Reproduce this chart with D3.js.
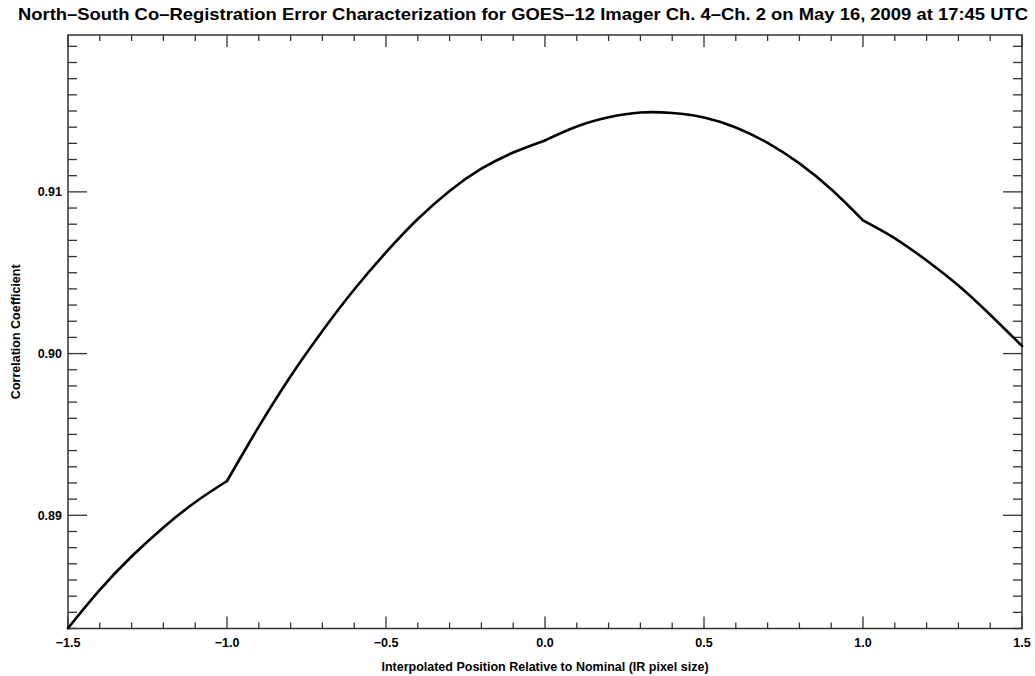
<!DOCTYPE html>
<html><head><meta charset="utf-8">
<script src="https://cdn.jsdelivr.net/npm/d3@7"></script>
<style>body{margin:0;background:#fff}svg{display:block}text{font-family:"Liberation Sans",Arial,sans-serif;font-weight:bold;fill:#000}</style>
</head><body>
<script>
const titleText = "North\u2013South Co\u2013Registration Error Characterization for GOES\u201312 Imager Ch. 4\u2013Ch. 2 on May 16, 2009 at 17:45 UTC";
const xLabel = "Interpolated Position Relative to Nominal (IR pixel size)";
const yLabel = "Correlation Coefficient";
const positions = [-1.5,-1.4,-1.3,-1.2,-1.1,-1.0,-0.9,-0.8,-0.7,-0.6,-0.5,-0.4,-0.3,-0.2,-0.1,0.0,0.1,0.2,0.3,0.4,0.5,0.6,0.7,0.8,0.9,1.0,1.1,1.2,1.3,1.4,1.5];
const correlation = [0.88302,0.88539,0.88745,0.88925,0.89081,0.89212,
  0.89548,0.89860,0.90140,0.90396,0.90626,0.90832,0.91006,0.91143,0.91243,0.91318,
  0.91404,0.91461,0.91491,0.91488,0.91460,0.91398,0.91303,0.91176,0.91016,0.90824,
  0.90713,0.90576,0.90421,0.90240,0.90047];
const kinks = [-1.0, 0.0, 1.0];
const xMajorTicks = [-1.5,-1.0,-0.5,0.0,0.5,1.0,1.5];
const xTickLabels = ["\u22121.5","\u22121.0","\u22120.5","0.0","0.5","1.0","1.5"];
const yMajorTicks = [0.89,0.90,0.91];
const yTickLabels = ["0.89","0.90","0.91"];

const W=1035,H=676;
const L=68,R=1022,T=35,B=628.5;
const svg=d3.select("body").append("svg").attr("width",W).attr("height",H);
const x=d3.scaleLinear().domain([-1.5,1.5]).range([L,R]);
const y=d3.scaleLinear().domain([0.8830,0.9197]).range([B,T]);
const axisColor="#333";

const xMinor=d3.range(-15,16).map(d=>d/10);
const yMinor=d3.range(883,920).map(d=>d/1000);
const g=svg.append("g").attr("stroke",axisColor).attr("stroke-width",1.3);
const isMajX=v=>xMajorTicks.some(m=>Math.abs(m-v)<1e-9);
const isMajY=v=>yMajorTicks.some(m=>Math.abs(m-v)<1e-9);
xMinor.forEach(v=>{
  const len=isMajX(v)?12:6;
  g.append("line").attr("x1",x(v)).attr("x2",x(v)).attr("y1",B).attr("y2",B-len);
  g.append("line").attr("x1",x(v)).attr("x2",x(v)).attr("y1",T).attr("y2",T+len);
});
yMinor.forEach(v=>{
  const len=isMajY(v)?19:9;
  g.append("line").attr("y1",y(v)).attr("y2",y(v)).attr("x1",L).attr("x2",L+len);
  g.append("line").attr("y1",y(v)).attr("y2",y(v)).attr("x1",R).attr("x2",R-len);
});
svg.append("rect").attr("x",L).attr("y",T).attr("width",R-L).attr("height",B-T)
  .attr("fill","none").attr("stroke",axisColor).attr("stroke-width",1.5);

const pts=positions.map((p,i)=>[p,correlation[i]]);
const bounds=[-1.5,...kinks,1.5];
const line=d3.line().x(d=>x(d[0])).y(d=>y(d[1])).curve(d3.curveNatural);
for(let i=0;i<bounds.length-1;i++){
  const seg=pts.filter(d=>d[0]>=bounds[i]-1e-9&&d[0]<=bounds[i+1]+1e-9);
  svg.append("path").datum(seg).attr("d",line).attr("fill","none")
    .attr("stroke","#000").attr("stroke-width",2.6).attr("stroke-linejoin","round").attr("stroke-linecap","round");
}

xMajorTicks.forEach((v,i)=>{
  svg.append("text").attr("x",x(v)).attr("y",647).attr("text-anchor","middle")
    .attr("font-size",12.5).text(xTickLabels[i]);
});
yMajorTicks.forEach((v,i)=>{
  svg.append("text").attr("x",62).attr("y",y(v)+4.5).attr("text-anchor","end")
    .attr("font-size",12.5).text(yTickLabels[i]);
});
svg.append("text").attr("x",(L+R)/2).attr("y",671).attr("text-anchor","middle")
  .attr("font-size",12.5).text(xLabel);
svg.append("text").attr("transform",`translate(20,${(T+B)/2}) rotate(-90)`).attr("text-anchor","middle")
  .attr("font-size",12.5).text(yLabel);
svg.append("text").attr("x",18).attr("y",20).attr("font-size",16.5)
  .attr("textLength",1010).attr("lengthAdjust","spacingAndGlyphs").text(titleText);
</script>
</body></html>
